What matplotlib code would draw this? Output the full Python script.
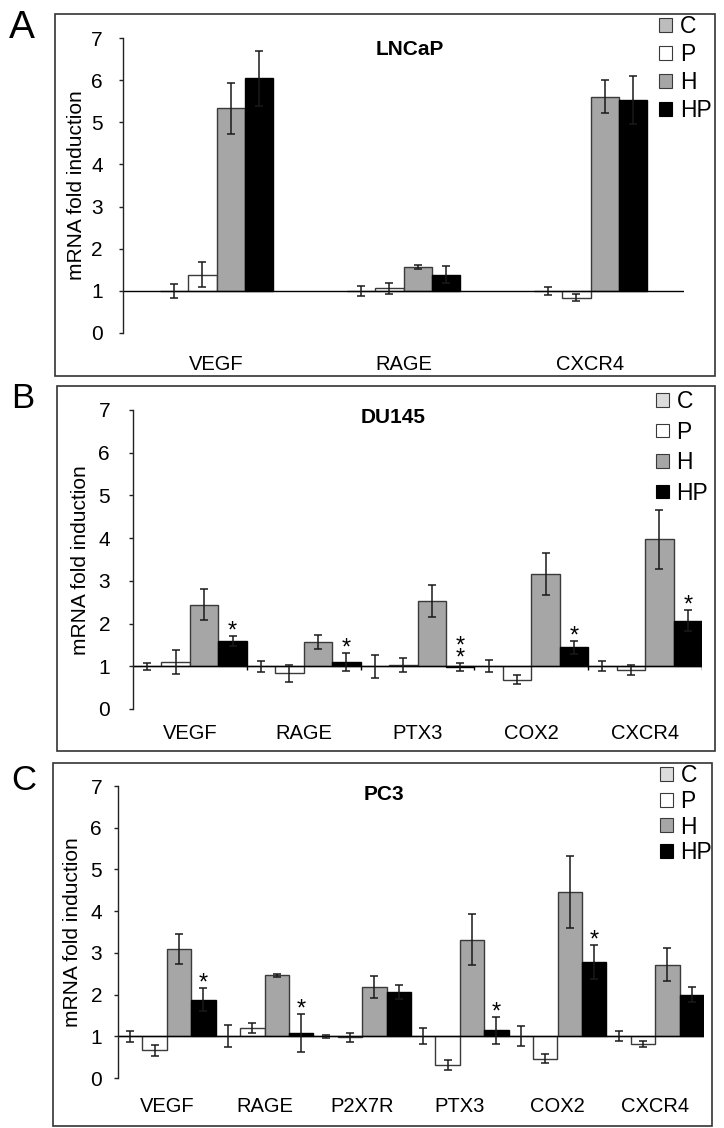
import matplotlib
matplotlib.use('Agg')
import matplotlib.pyplot as plt
from matplotlib.patches import Rectangle, Patch
import numpy as np

plt.rcParams['font.family'] = ['Liberation Sans', 'DejaVu Sans']

series = ['C', 'P', 'H', 'HP']

# ---- Panel A : LNCaP ----
a_genes = ['VEGF', 'RAGE', 'CXCR4']
a_C = [1.00, 1.00, 1.00]
a_C_err = [0.17, 0.12, 0.09]
a_P = [1.38, 1.06, 0.84]
a_P_err = [0.30, 0.13, 0.09]
a_H = [5.33, 1.56, 5.61]
a_H_err = [0.60, 0.05, 0.40]
a_HP = [6.04, 1.38, 5.53]
a_HP_err = [0.66, 0.20, 0.56]
a_stars = ['', '', '']

# ---- Panel B : DU145 ----
b_genes = ['VEGF', 'RAGE', 'PTX3', 'COX2', 'CXCR4']
b_C = [1.00, 1.00, 1.00, 1.00, 1.00]
b_C_err = [0.08, 0.13, 0.27, 0.14, 0.12]
b_P = [1.10, 0.84, 1.03, 0.69, 0.91]
b_P_err = [0.28, 0.20, 0.17, 0.11, 0.12]
b_H = [2.44, 1.57, 2.53, 3.16, 3.97]
b_H_err = [0.36, 0.16, 0.38, 0.50, 0.70]
b_HP = [1.60, 1.10, 0.98, 1.44, 2.07]
b_HP_err = [0.12, 0.22, 0.09, 0.15, 0.25]
b_stars = ['*', '*', '*\n*', '*', '*']

# ---- Panel C : PC3 ----
c_genes = ['VEGF', 'RAGE', 'P2X7R', 'PTX3', 'COX2', 'CXCR4']
c_C = [1.00, 1.00, 1.00, 1.00, 1.00, 1.00]
c_C_err = [0.13, 0.26, 0.03, 0.19, 0.24, 0.12]
c_P = [0.66, 1.19, 0.98, 0.31, 0.46, 0.82]
c_P_err = [0.13, 0.12, 0.11, 0.13, 0.11, 0.07]
c_H = [3.10, 2.46, 2.18, 3.32, 4.46, 2.72]
c_H_err = [0.36, 0.04, 0.26, 0.60, 0.86, 0.39]
c_HP = [1.88, 1.08, 2.06, 1.14, 2.79, 2.00]
c_HP_err = [0.28, 0.45, 0.16, 0.33, 0.41, 0.18]
c_stars = ['*', '*', '', '*', '*', '']

W, H = 724, 1128
fig = plt.figure(figsize=(W / 100, H / 100), dpi=100)


def fx(x):
    return x / W


def fy(y):
    return 1 - y / H


def rect(l, t, r, b):
    return [fx(l), fy(b), (r - l) / W, (b - t) / H]


H_COL = '#a6a6a6'
EDGE = '#3a3a3a'

panels = [
    dict(letter='A', title='LNCaP', genes=a_genes,
         vals=[a_C, a_P, a_H, a_HP], errs=[a_C_err, a_P_err, a_H_err, a_HP_err],
         stars=a_stars, ax=(123, 38, 684, 333), box=(55, 14, 715, 376),
         width=0.15, letter_pos=(9, 38), letter_size=28,
         title_pos=(410, 55), ylab=(77, 185), leg=(659, 15), legsp=0.22,
         c_col='#bdbdbd', ytick_pad=11.5, xtick_pad=15.5, bticks=False),
    dict(letter='B', title='DU145', genes=b_genes,
         vals=[b_C, b_P, b_H, b_HP], errs=[b_C_err, b_P_err, b_H_err, b_HP_err],
         stars=b_stars, ax=(133, 410, 702, 709), box=(57, 386, 715, 751),
         width=0.25, letter_pos=(11, 408), letter_size=25,
         title_pos=(393, 423), ylab=(80, 560), leg=(656, 390), legsp=0.33,
         c_col='#dcdcdc', ytick_pad=13.5, xtick_pad=11.0, bticks=True),
    dict(letter='C', title='PC3', genes=c_genes,
         vals=[c_C, c_P, c_H, c_HP], errs=[c_C_err, c_P_err, c_H_err, c_HP_err],
         stars=c_stars, ax=(118, 786, 704, 1078), box=(53, 763, 712, 1126),
         width=0.25, letter_pos=(11, 790), letter_size=25,
         title_pos=(384, 800), ylab=(72, 932), leg=(660, 764), legsp=0.12,
         c_col='#dcdcdc', ytick_pad=8.5, xtick_pad=14.0, bticks=False),
]

for p in panels:
    l, t, r, b = p['ax']
    ax = fig.add_axes(rect(l, t, r, b))
    genes = p['genes']
    n = len(genes)
    x = np.arange(n)
    w = p['width']
    colors = [p['c_col'], 'white', H_COL, 'black']
    for i, (vals, errs) in enumerate(zip(p['vals'], p['errs'])):
        xs = x + (i - 1.5) * w
        v = np.array(vals)
        ax.bar(xs, v - 1, bottom=1, width=w, color=colors[i],
               edgecolor=EDGE if i < 3 else 'black', linewidth=1.0, zorder=2)
        ax.errorbar(xs, v, yerr=errs, fmt='none', ecolor='#1a1a1a',
                    elinewidth=1.1, capsize=3.2, capthick=1.1, zorder=3)
    # significance stars above HP bars
    hp_x = x + 1.5 * w
    for xi, v, e, s in zip(hp_x, p['vals'][3], p['errs'][3], p['stars']):
        if s:
            ax.text(xi, v + e - 0.04, s, ha='center', va='baseline',
                    fontsize=17, linespacing=0.45, zorder=4)
    ax.axhline(1, color='black', lw=1.0, zorder=2.5)
    if p['bticks']:
        ax.vlines(x + 0.5, 1 - 0.095, 1, color='black', lw=1.0, zorder=2.5)
    ax.set_xlim(-0.5, n - 0.5)
    ax.set_ylim(0, 7)
    ax.set_yticks(range(8))
    ax.set_xticks(x)
    ax.set_xticklabels(genes)
    for s in ['top', 'right', 'bottom']:
        ax.spines[s].set_visible(False)
    ax.spines['left'].set_linewidth(1.0)
    ax.spines['left'].set_color('#222222')
    ax.tick_params(axis='y', direction='out', length=3, width=1.0,
                   color='#222222', pad=p['ytick_pad'], labelsize=15)
    ax.tick_params(axis='x', length=0, pad=p['xtick_pad'], labelsize=14.5)
    ax.patch.set_visible(False)

    # legend
    handles = [Patch(facecolor=c, edgecolor=EDGE if c != 'black' else 'black', lw=0.8)
               for c in colors]
    ax.legend(handles, series, loc='upper left',
              bbox_to_anchor=(fx(p['leg'][0]), fy(p['leg'][1])),
              bbox_transform=fig.transFigure, frameon=False, fontsize=16.5,
              handlelength=0.55, handleheight=0.55, handletextpad=0.35,
              labelspacing=p['legsp'], borderpad=0, borderaxespad=0)

    # frame box
    bl, bt, br, bb = p['box']
    fig.patches.append(Rectangle((fx(bl), fy(bb)), (br - bl) / W, (bb - bt) / H,
                                 transform=fig.transFigure, fill=False,
                                 edgecolor='#333333', lw=1.2))
    # letter, title, y label
    fig.text(fx(p['letter_pos'][0]), fy(p['letter_pos'][1]), p['letter'],
             fontsize=p['letter_size'], ha='left', va='baseline')
    fig.text(fx(p['title_pos'][0]), fy(p['title_pos'][1]), p['title'],
             fontsize=15, fontweight='bold', ha='center', va='baseline')
    fig.text(fx(p['ylab'][0]), fy(p['ylab'][1]), 'mRNA fold induction',
             fontsize=15, rotation=90, ha='center', va='center')

fig.savefig('out.png', dpi=100, facecolor='white')
